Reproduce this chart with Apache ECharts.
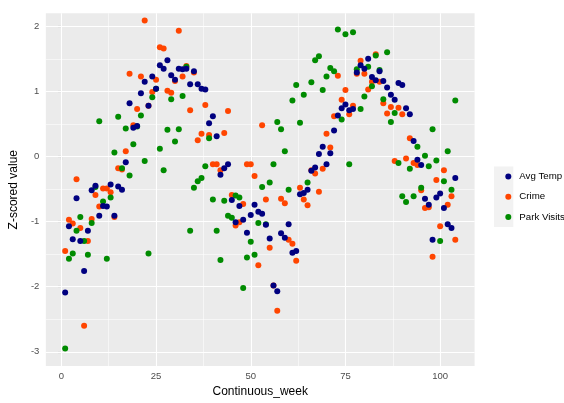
<!DOCTYPE html>
<html>
<head>
<meta charset="utf-8">
<script src="https://cdn.jsdelivr.net/npm/echarts@6/dist/echarts.min.js"></script>
<style>
html,body{margin:0;padding:0;background:#fff;}
#chart{width:564px;height:403px;}
</style>
</head>
<body>
<div id="chart"></div>
<script>
const weeks = [1,2,3,4,5,6,7,8,9,10,11,12,13,14,15,16,17,18,19,20,21,22,23,24,25,26,27,28,29,30,31,32,33,34,35,36,37,38,39,40,41,42,43,44,45,46,47,48,49,50,51,52,53,54,55,56,57,58,59,60,61,62,63,64,65,66,67,68,69,70,71,72,73,74,75,76,77,78,79,80,81,82,83,84,85,86,87,88,89,90,91,92,93,94,95,96,97,98,99,100,101,102,103,104];

const avgTemp = [-2.09,-1.07,-1.27,-0.64,-1.30,-1.76,-1.14,-0.52,-0.45,-0.91,
  -0.76,-0.77,-0.43,-0.91,-0.46,-0.51,-0.09,0.82,0.44,0.47,
  0.97,1.15,0.78,1.23,1.04,1.40,1.35,1.48,1.25,1.18,
  1.35,1.34,1.35,1.11,1.31,1.11,1.04,1.03,0.51,0.62,
  0.31,-0.28,-0.18,-0.12,-0.67,-1.01,-0.76,-0.97,-1.17,-0.90,
  -0.74,-0.85,-0.88,-1.05,-1.26,-1.98,-2.07,-1.18,-1.25,-1.04,
  -1.48,-1.45,-0.58,-0.56,-0.51,-0.22,-0.17,0.04,0.15,-0.12,
  0.05,0.40,0.63,0.74,0.80,0.71,0.73,1.29,1.40,1.35,
  1.50,1.22,1.17,1.31,1.16,1.06,0.95,0.87,1.13,1.10,
  0.74,0.65,0.24,-0.05,-0.13,-0.65,-0.74,-1.28,-0.63,-0.57,
  -0.79,-1.04,-1.10,-0.33];

const crime = [-1.45,-0.97,-1.03,-0.35,-1.10,-2.60,-1.30,-0.96,-0.59,-0.77,
  -0.49,-0.49,-0.55,-0.93,-0.18,-0.20,0.08,1.27,0.48,0.73,
  1.23,2.09,0.78,0.99,1.18,1.68,1.66,1.01,0.98,1.16,
  1.93,1.23,1.39,0.71,1.29,0.25,0.35,0.79,0.33,-0.12,
  -0.12,-0.21,0.36,0.70,-0.59,-1.06,-1.01,-0.73,-0.12,-0.12,
  -0.30,-1.67,0.48,-0.66,-1.40,-1.98,-2.37,-0.65,-0.72,-1.28,
  -1.34,-1.60,-0.48,-0.66,-0.75,-0.21,-0.26,-0.54,-0.19,0.35,
  0.14,0.62,1.24,0.87,1.02,0.65,0.78,1.27,1.47,1.27,
  1.03,1.15,1.57,1.15,0.82,0.66,0.76,-0.07,0.75,0.65,
  -0.03,0.28,-0.10,-0.13,-0.52,-0.79,-0.78,-1.54,-0.36,-1.07,
  -0.21,-0.74,-0.61,-1.28];

const parkVisits = [-2.95,-1.57,-1.49,-1.14,-0.93,-1.30,-1.51,-1.02,-0.47,0.54,
  -0.69,-1.57,-0.63,0.06,0.61,-0.18,0.43,-0.29,0.19,0.46,
  0.63,-0.07,-1.49,0.91,1.04,0.12,-0.21,0.41,0.88,0.23,
  0.42,0.93,1.38,-1.14,-0.48,-0.38,-0.33,-0.15,0.28,-0.66,
  -1.14,-1.59,-0.68,-0.91,-0.94,-0.60,-0.63,-2.02,-1.55,-1.31,
  -1.51,-1.02,-0.47,-1.04,-0.40,-0.12,0.53,0.42,0.08,-0.51,
  0.86,1.10,0.52,0.95,-0.40,1.14,1.48,1.54,1.02,1.23,
  1.36,1.31,1.95,0.57,1.88,-0.12,1.91,1.34,0.73,0.92,
  1.38,1.08,1.55,1.33,0.88,1.60,0.53,0.67,-0.10,-0.61,
  -0.70,-0.19,-0.61,0.15,-0.48,0.01,-0.15,0.42,-0.06,-1.30,
  -0.38,0.08,-0.51,0.86];

const seriesNames = ['Avg Temp','Crime','Park Visits'];
const xTicks = [0,25,50,75,100];
const xMinor = [12.5,37.5,62.5,87.5];
const yTicks = [-3,-2,-1,0,1,2];
const yMinor = [-2.5,-1.5,-0.5,0.5,1.5];

const FONT = 'Liberation Sans, Arial, sans-serif';
const pair = vals => vals.map((v,i) => [weeks[i], v]);

const gridLines = (xs, ys) => xs.map(v => ({xAxis: v})).concat(ys.map(v => ({yAxis: v})));

const chart = echarts.init(document.getElementById('chart'), null, {renderer:'canvas'});
chart.setOption({
  animation: false,
  textStyle: {fontFamily: FONT},
  grid: {left: 43.3, top: 13.3, width: 431.3, height: 356.7, show: true,
         backgroundColor: '#EBEBEB', borderWidth: 0},
  graphic: [{type:'rect', left: 494, top: 166.5, z: 0,
             shape:{width: 19.3, height: 60.5}, style:{fill:'#F2F2F2'}}],
  legend: {
    orient: 'vertical', left: 500.3, top: 161.5, itemGap: 0,
    itemWidth: 6, itemHeight: 6, icon: 'circle',
    data: seriesNames,
    textStyle: {fontFamily: FONT, fontSize: 9.7, color: '#000', lineHeight: 20.2, padding: [0,0,0,3]}
  },
  xAxis: {
    type: 'value', min: -4.1, max: 109.1,
    name: 'Continuous_week', nameLocation: 'middle', nameGap: 17,
    nameTextStyle: {fontFamily: FONT, fontSize: 12, color: '#000'},
    axisLine: {show: false},
    axisTick: {show: true, length: 3.5, lineStyle: {color: '#333333', width: 1.07}, customValues: xTicks},
    axisLabel: {customValues: xTicks, color: '#4D4D4D', fontSize: 9.5, margin: 5, fontFamily: FONT},
    splitLine: {show: false}
  },
  yAxis: {
    type: 'value', min: -3.22, max: 2.2,
    name: 'Z-scored value', nameLocation: 'middle', nameGap: 18,
    nameTextStyle: {fontFamily: FONT, fontSize: 12, color: '#000'},
    axisLine: {show: false},
    axisTick: {show: true, length: 3.5, lineStyle: {color: '#333333', width: 1.07}, customValues: yTicks},
    axisLabel: {customValues: yTicks, color: '#4D4D4D', fontSize: 9.5, margin: 6.5, fontFamily: FONT},
    splitLine: {show: false}
  },
  series: [
    {type: 'line', data: [], z: 1, silent: true,
     markLine: {z: 1, silent: true, symbol: ['none','none'], label: {show: false},
                lineStyle: {color: '#FFFFFF', width: 0.55, type: 'solid'},
                data: gridLines(xMinor, yMinor)}},
    {type: 'line', data: [], z: 1, silent: true,
     markLine: {z: 1, silent: true, symbol: ['none','none'], label: {show: false},
                lineStyle: {color: '#FFFFFF', width: 1.1, type: 'solid'},
                data: gridLines(xTicks, yTicks)}},
    {name: 'Crime', type: 'scatter', z: 3, symbolSize: 6, itemStyle: {color: '#FF4500', opacity: 1}, data: pair(crime)},
    {name: 'Park Visits', type: 'scatter', z: 4, symbolSize: 6, itemStyle: {color: '#008B00', opacity: 1}, data: pair(parkVisits)},
    {name: 'Avg Temp', type: 'scatter', z: 5, symbolSize: 6, itemStyle: {color: '#000080', opacity: 1}, data: pair(avgTemp)}
  ]
});
</script>
</body>
</html>
